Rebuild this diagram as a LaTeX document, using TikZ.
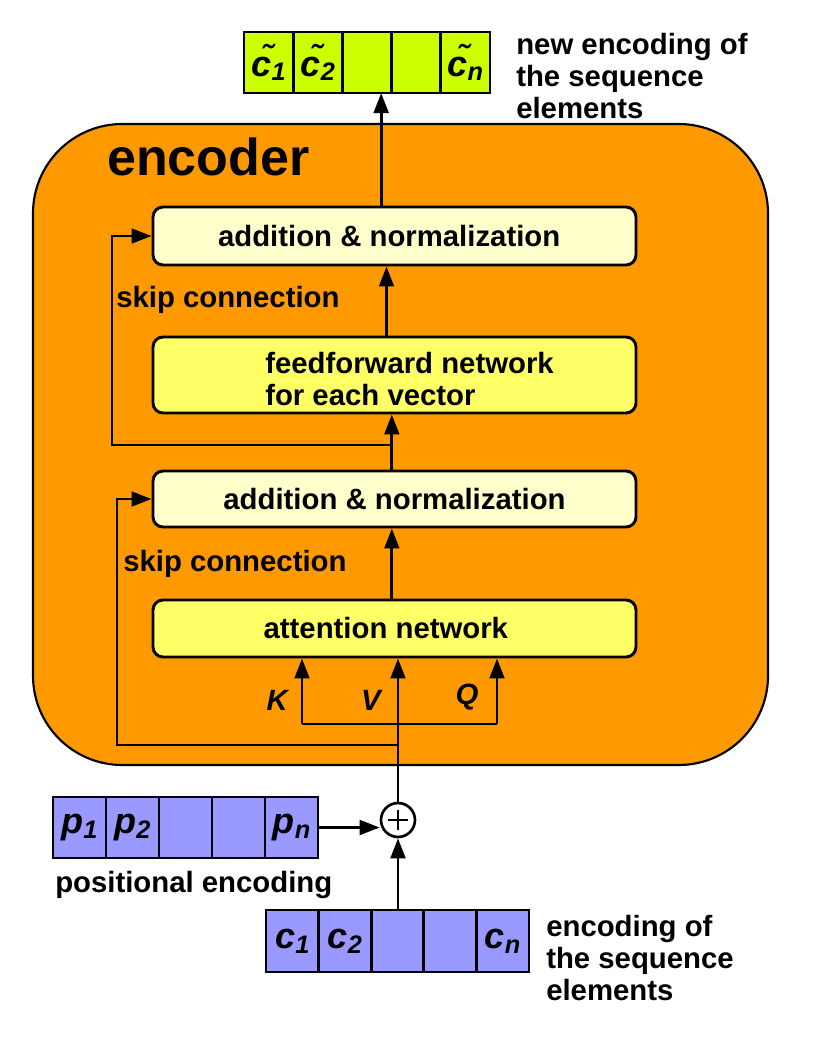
\documentclass[tikz,border=0pt]{standalone}
\usepackage{fontspec}
\setmainfont{Liberation Sans}
\usetikzlibrary{arrows.meta,calc}
\definecolor{encorange}{HTML}{FF9900}
\definecolor{paleyel}{HTML}{FFFFCC}
\definecolor{yel}{HTML}{FFFF66}
\definecolor{limecell}{HTML}{CCFF00}
\definecolor{bluecell}{HTML}{9999FF}
\newcommand\mysubtxt[1]{\raisebox{-3.5pt}{\fontsize{19}{20}\selectfont\bfseries\itshape #1}}
\newcommand\ctil[1]{\textit{\~{c}}\mysubtxt{#1}}
\newcommand\csub[2]{\textit{#1}\mysubtxt{#2}}
\begin{document}
\begin{tikzpicture}[x=0.75pt,y=-0.75pt,
  font=\fontsize{22}{24}\selectfont\bfseries,
  enc/.style={draw, line width=1.6pt, fill=encorange, rounded corners=67pt,
    minimum width=551.25pt, minimum height=480.75pt, inner sep=0pt},
  box/.style={draw, line width=2.2pt, rounded corners=7.5pt, minimum width=362.25pt, inner sep=0pt},
  lbl/.style={inner sep=0pt, anchor=west, align=left},
  cell/.style={draw, line width=2.2pt, inner sep=0pt, outer sep=0pt, font=\fontsize{27}{28}\selectfont\bfseries},
  tcell/.style={cell, fill=limecell, minimum width=36.9pt, minimum height=45.75pt},
  pcell/.style={cell, fill=bluecell, minimum width=39.75pt, minimum height=45.75pt},
  ccell/.style={cell, fill=bluecell, minimum width=39.45pt, minimum height=46.5pt},
  arr/.style={line width=2.2pt, -{Triangle[length=15pt,width=11pt]}},
  ln/.style={line width=2.2pt}]
\useasboundingbox (0,0) rectangle (816,1056);

% encoder block
\node[enc] (encoder) at (400.5,444.5) {};
\node[lbl, font=\fontsize{39}{42}\selectfont\bfseries] (enctitle) at (107,157) {encoder};

\node[box, fill=paleyel, minimum height=43.5pt] (add2) at (394.5,236) {addition \& normalization\hspace*{8pt}};
\node[box, fill=yel, minimum height=57pt] (ff) at (394.5,375) {};
\node[lbl] (fftext) at (265,379) {feedforward network\\for each vector};
\node[box, fill=paleyel, minimum height=42pt] (add1) at (394.5,499) {addition \& normalization};
\node[box, fill=yel, minimum height=42.75pt] (att) at (394.5,628.5) {attention network\hspace*{13pt}};

% top array
\node[tcell] (t1) at (268.6,62.5) {\ctil{1}};
\node[tcell] (t2) at (317.8,62.5) {\ctil{2}};
\node[tcell] (t3) at (367.0,62.5) {};
\node[tcell] (t4) at (416.2,62.5) {};
\node[tcell] (t5) at (465.4,62.5) {\ctil{n}};
\node[lbl] (newlbl) at (516,76) {new encoding of\\the sequence\\elements};

% positional encoding array
\node[pcell] (p1) at (79.5,827.5) {\csub{p}{1}};
\node[pcell] (p2) at (132.5,827.5) {\csub{p}{2}};
\node[pcell] (p3) at (185.5,827.5) {};
\node[pcell] (p4) at (238.5,827.5) {};
\node[pcell] (p5) at (291.5,827.5) {\csub{p}{n}};
\node[lbl] (poslbl) at (55,885) {positional encoding};

% input array
\node[ccell] (c1) at (292.3,941) {\csub{c}{1}};
\node[ccell] (c2) at (344.9,941) {\csub{c}{2}};
\node[ccell] (c3) at (397.5,941) {};
\node[ccell] (c4) at (450.1,941) {};
\node[ccell] (c5) at (502.7,941) {\csub{c}{n}};
\node[lbl] (enclbl) at (546,958) {encoding of\\the sequence\\elements};

% plus
\node[draw, circle, line width=2pt, fill=white, minimum size=25.5pt, inner sep=0pt] (plus) at (398,820) {};
\draw[line width=1.8pt] ($(plus.center)+(-10,0)$) -- ($(plus.center)+(10,0)$);
\draw[line width=1.8pt] ($(plus.center)+(0,-10)$) -- ($(plus.center)+(0,10)$);

% connectors
\draw[arr] (plus.south |- c3.north) -- (plus.south);
\draw[arr] (p5.east) -- (p5.east -| plus.west);
\draw[arr] (plus.north) -- (plus.north |- att.south);
\coordinate (kl) at (302,724);
\coordinate (kr) at (497,724);
\draw[ln] (kl) -- (kr);
\draw[arr] (kl) -- (kl |- att.south);
\draw[arr] (kr) -- (kr |- att.south);
\coordinate (s1) at (398,745);
\coordinate (s1l) at (117,745);
\draw[arr] (s1) -- (s1l) |- (add1.west);
\draw[arr] ([xshift=-2pt]att.north) -- ([xshift=-2pt]add1.south);
\draw[arr] ([xshift=-2pt]add1.north) -- ([xshift=-2pt]ff.south);
\coordinate (s2) at (391.8,445);
\coordinate (s2l) at (112,445);
\draw[arr] (s2) -- (s2l) |- (add2.west);
\draw[arr] ([xshift=-6pt]ff.north) -- ([xshift=-6pt]add2.south);
\draw[arr] ([xshift=-10pt]add2.north) -- ([xshift=-10pt]add2.north |- t3.south);

% labels
\node[lbl] (skipup) at (116,300) {skip connection};
\node[lbl] (skiplo) at (123,564) {skip connection};
\node[inner sep=0pt] (klbl) at (278,700) {\textit{K}};
\node[inner sep=0pt] (vlbl) at (372,700) {\textit{V}};
\node[inner sep=0pt] (qlbl) at (467,697) {\textit{Q}};
\end{tikzpicture}
\end{document}
